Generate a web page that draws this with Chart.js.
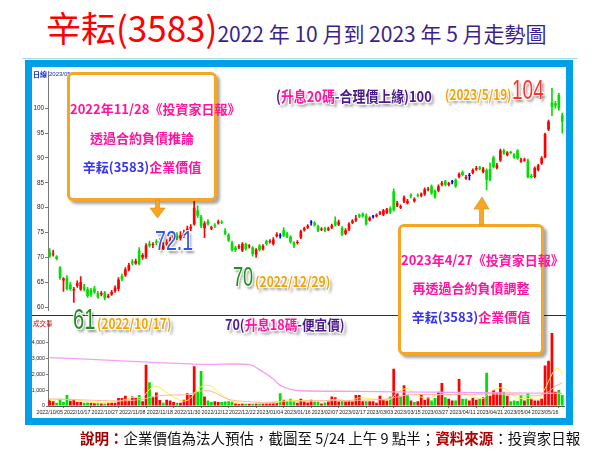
<!DOCTYPE html>
<html lang="zh-Hant">
<head>
<meta charset="utf-8">
<title>辛耘(3583) 走勢圖</title>
<script src="https://cdn.jsdelivr.net/npm/chart.js@4.4.1/dist/chart.umd.min.js"></script>
<style>
  html, body { margin:0; padding:0; }
  body { width:600px; height:454px; position:relative; overflow:hidden; background:#fff;
         font-family:"Noto Sans CJK TC","Noto Sans",sans-serif; }
  .t { position:absolute; white-space:nowrap; line-height:1; transform-origin:0 50%; }
  .box { position:absolute; border:3px solid #f6a623; border-radius:6px; background:#fff;
         box-shadow:3px 3px 3px rgba(0,0,0,0.35); box-sizing:border-box; }
  .box div { position:absolute; left:0; width:100%; text-align:center; font-weight:bold;
             font-size:13px; line-height:1; white-space:nowrap; }
  .mg { color:#ff14a0; }
  .bl { color:#3434f0; }
  .pu { color:#4a1a8c; }
  .or { color:#f5a300; }
  .sh { text-shadow:1px 1px 0 #fff,-1px -1px 0 #fff,1px -1px 0 #fff,-1px 1px 0 #fff,3px 3px 3px rgba(0,0,0,0.45); }
  .big { font-family:"Liberation Sans",sans-serif; }
</style>
</head>
<body>

<div class="t" style="left:46px;top:9px"><span style="font-size:35px;color:#ff0000">辛耘(3583)</span><span style="font-size:21px;color:#3b1f8c">2022 年 10 月到 2023 年 5 月走勢圖</span></div>
<div style="position:absolute;left:22px;top:58px;width:556px;height:1px;background:#a6dbe9"></div>

<div style="position:absolute;left:25px;top:60px;width:548px;height:365px;border:7px solid #00a0e9;box-sizing:border-box;background:#fff"></div>
<canvas id="priceChart" width="533" height="248" style="position:absolute;left:32px;top:67px"></canvas>
<div style="position:absolute;left:32px;top:315px;width:534px;height:1px;background:#5a1e1e"></div>
<canvas id="volChart" width="533" height="102" style="position:absolute;left:32px;top:316px"></canvas>

<div class="t" style="left:33px;top:71px;font-size:7px;color:#1030d0;font-weight:bold">日線</div>
<div class="t" style="left:49px;top:71px;font-size:6px;color:#1030d0;font-family:'Liberation Sans',sans-serif">2023/05/23</div>
<div class="t" style="left:33px;top:320px;font-size:6.5px;color:#e00000">成交量</div>

<div class="box" style="left:67px;top:72px;width:150px;height:129px">
  <div class="mg" style="top:27px">2022年11/28《投資家日報》</div>
  <div class="mg" style="top:56px">透過合約負債推論</div>
  <div style="top:85px"><span class="bl">辛耘(3583)</span><span class="mg">企業價值</span></div>
</div>

<div class="box" style="left:398px;top:224px;width:146px;height:131px">
  <div class="mg" style="top:26px">2023年4/27《投資家日報》</div>
  <div class="mg" style="top:54px">再透過合約負債調整</div>
  <div style="top:83px"><span class="bl">辛耘(3583)</span><span class="mg">企業價值</span></div>
</div>

<svg width="600" height="454" style="position:absolute;left:0;top:0;pointer-events:none">
  <polygon points="155.5,200 159.5,200 159.5,208 165,208 157.5,218 150,208 155.5,208" fill="#f6a623" stroke="#d88a10" stroke-width="0.6"/>
  <polygon points="479.5,225 483.5,225 483.5,209 489,209 482,197 474,209 479.5,209" fill="#f6a623" stroke="#d88a10" stroke-width="0.6"/>
</svg>

<div class="t sh" style="left:276px;top:88px;font-size:15px;font-weight:bold;transform:scaleX(0.86)"><span class="pu">(</span><span class="mg">升息20碼</span><span class="pu">-合理價上緣)100</span></div>
<div class="t sh or" style="left:445px;top:87px;font-size:14px;font-weight:bold;transform:scaleX(0.84)">(2023/5/19)</div>
<div class="t sh big" style="left:512px;top:76px;font-size:28px;color:#ff3030;transform:scaleX(0.68)">104</div>
<div class="t sh big" style="left:155px;top:227px;font-size:28px;color:#2f55e6;transform:scaleX(0.7)">72.1</div>
<div class="t sh big" style="left:233px;top:263px;font-size:28px;color:#1f8f1f;transform:scaleX(0.65)">70</div>
<div class="t sh or" style="left:255px;top:274px;font-size:14px;font-weight:bold;transform:scaleX(0.86)">(2022/12/29)</div>
<div class="t sh" style="left:225px;top:317px;font-size:14px;font-weight:bold;transform:scaleX(0.9)"><span class="pu">70(</span><span class="mg">升息18碼</span><span class="pu">-便宜價)</span></div>
<div class="t sh big" style="left:73px;top:304px;font-size:30px;color:#1f8f1f;transform:scaleX(0.67)">61</div>
<div class="t sh or" style="left:97px;top:316px;font-size:14px;font-weight:bold;transform:scaleX(0.85)">(2022/10/17)</div>

<div class="t" style="left:80px;top:431px;font-size:14.5px;color:#111"><b style="color:#a00000">說明：</b>企業價值為法人預估，截圖至 5/24 上午 9 點半；<b style="color:#b00000">資料來源</b>：投資家日報</div>

<script>
// 日K 開高低收（2022/10 ~ 2023/05）
var openP = [
  71.0,70.6,70.2,68.0,65.4,65.9,64.6,63.4,64.3,63.6,
  64.2,63.7,63.5,63.8,62.9,62.6,63.0,62.0,62.6,63.3,
  63.7,66.3,66.4,67.5,69.2,68.8,71.4,70.0,70.1,72.8,
  72.5,73.2,73.0,71.7,72.6,73.0,73.6,74.4,73.8,74.3,
  75.2,75.8,76.7,79.5,78.2,75.9,77.3,75.8,76.5,76.9,
  77.2,75.4,74.6,73.0,72.0,72.0,71.4,72.7,72.2,72.0,
  70.6,72.4,71.7,73.3,73.1,72.7,74.3,74.3,75.5,74.8,
  74.2,73.0,72.9,74.0,75.5,76.0,77.0,77.0,76.3,75.6,
  75.9,75.6,76.0,77.3,76.6,76.0,74.8,75.6,77.0,77.5,
  78.6,78.8,78.4,77.5,78.2,78.3,78.8,78.6,79.0,79.9,
  83.3,80.4,80.0,81.2,80.9,82.6,81.3,82.6,82.4,82.7,
  83.6,84.3,83.4,83.4,84.6,85.3,84.6,85.1,85.6,86.2,
  87.2,85.9,86.4,87.0,87.7,88.1,87.2,87.6,87.8,90.1,
  88.0,89.5,91.5,90.6,91.2,90.7,91.5,89.3,89.5,89.5,
  86.4,86.2,87.6,88.9,90.1,95.7,101.2,101.0,102.7,98.6
];
var closeP = [
  70.2,70.8,69.7,65.9,65.8,63.7,63.7,63.7,64.9,65.1,
  63.6,62.3,62.6,63.0,62.0,62.9,61.8,62.3,63.1,64.0,
  65.6,65.6,67.6,68.5,68.8,69.3,68.7,70.5,72.4,72.3,
  72.7,72.9,73.3,72.4,73.0,73.6,74.4,74.0,74.5,75.0,
  75.8,76.2,80.0,78.4,76.3,76.9,76.7,76.1,76.3,77.2,
  77.0,74.8,73.4,71.5,71.5,72.3,72.7,71.7,72.4,70.7,
  71.6,71.5,72.3,72.7,73.3,73.6,74.7,74.3,74.4,74.2,
  73.1,72.4,73.1,75.3,75.9,76.4,77.0,76.5,75.4,75.8,
  75.4,75.9,76.5,76.5,77.2,74.6,75.5,76.8,77.4,77.9,
  78.2,78.3,76.7,78.0,78.2,78.6,79.1,79.5,79.7,79.1,
  79.5,81.0,80.3,82.1,81.4,82.3,81.8,82.4,82.8,83.7,
  83.8,82.9,82.1,84.3,85.0,84.6,84.9,85.1,84.3,86.8,
  86.6,86.2,86.4,87.6,88.0,87.8,87.9,85.6,85.6,88.2,
  88.6,91.5,90.9,91.1,91.0,90.1,89.9,89.7,89.7,86.2,
  86.2,88.0,88.5,90.0,94.8,97.3,100.3,100.5,100.0,97.3
];
var highP = [
  71.8,71.5,70.4,68.2,66.0,66.4,65.0,64.0,65.3,66.2,
  64.6,64.0,63.8,64.2,63.2,63.2,63.2,62.6,63.4,64.3,
  66.0,66.7,68.0,68.9,69.6,69.7,72.0,70.8,72.8,73.3,
  73.0,73.6,73.8,73.0,73.6,74.0,74.8,75.0,75.2,75.5,
  76.3,76.6,81.5,80.4,78.5,77.2,77.6,76.3,76.8,77.5,
  77.4,75.8,74.8,73.3,72.3,72.6,73.0,72.9,72.6,72.2,
  71.8,72.6,72.6,73.5,73.6,74.0,75.0,74.8,76.0,75.1,
  74.4,73.2,73.4,75.5,76.1,76.6,77.4,77.2,76.5,76.0,
  76.1,76.1,76.7,78.2,77.5,76.2,75.8,77.0,77.6,78.5,
  78.8,79.0,78.8,78.2,78.5,78.8,79.3,79.7,79.9,80.2,
  83.8,81.3,80.6,82.4,81.7,82.8,82.0,82.8,83.0,84.0,
  84.1,84.6,83.6,84.6,85.3,85.5,85.1,85.5,85.8,87.0,
  87.4,86.5,86.9,87.8,88.3,88.3,88.1,87.8,89.0,90.4,
  88.9,91.8,91.8,91.3,91.4,90.9,91.7,90.0,90.0,89.8,
  86.7,88.2,88.7,90.3,95.0,97.6,104.0,101.4,103.0,99.0
];
var lowP = [
  70.0,70.3,69.5,65.6,63.2,63.5,63.4,61.0,64.0,63.4,
  63.3,62.0,62.2,62.8,61.8,62.3,61.5,61.9,62.4,63.0,
  63.3,65.3,66.2,67.3,68.5,68.6,68.5,69.6,69.8,72.1,
  72.0,72.6,72.6,71.6,72.4,72.8,73.4,73.6,73.5,74.0,
  74.8,75.4,76.5,78.0,76.0,74.0,76.5,75.6,76.0,76.7,
  76.8,74.6,73.2,71.3,71.2,71.8,71.2,71.5,71.9,70.3,
  70.0,71.3,71.5,72.5,72.9,72.5,74.1,73.9,74.2,74.0,
  72.9,72.0,72.7,73.8,75.3,75.8,76.5,76.3,75.2,75.4,
  75.2,75.4,75.8,76.3,76.4,74.4,74.6,75.4,76.8,77.2,
  78.0,78.1,76.5,77.3,77.9,78.1,78.6,78.4,78.8,78.8,
  79.3,80.2,79.8,81.0,80.7,82.0,81.1,82.2,82.2,82.5,
  83.4,82.7,81.9,83.2,84.4,84.4,84.4,84.8,84.1,86.0,
  86.4,85.7,85.6,86.8,87.5,87.6,87.0,83.6,85.4,88.0,
  87.8,89.3,90.7,90.4,90.8,89.9,89.7,89.1,89.3,86.0,
  86.0,86.0,87.4,88.7,90.0,95.5,98.5,100.0,99.6,95.0
];
// 成交量（張）
var volume = [
  400,300,200,450,250,700,330,400,250,250,
  200,220,200,180,200,180,150,200,220,200,
  500,500,650,400,600,550,700,300,2600,1500,
  550,850,380,200,400,350,250,200,200,400,
  800,700,2500,900,2200,600,350,250,300,250,
  250,280,300,280,150,130,150,140,160,180,
  200,170,150,180,200,220,200,800,400,300,
  450,280,200,450,280,220,400,280,300,150,
  220,280,600,550,280,300,280,300,280,700,
  700,300,300,300,300,200,650,400,350,600,
  2350,800,600,1300,700,350,250,300,750,400,
  550,350,500,900,1450,550,450,350,350,1700,
  450,450,350,500,400,450,550,2100,650,1000,
  850,1450,900,650,300,350,320,700,350,800,
  450,350,350,450,2550,2850,4600,900,1000,700
];
// 均量線（讀圖取點：[K棒序號, 張數]）
var volMaShort = [[0,350],[4,420],[8,380],[12,230],[16,190],[20,300],[24,530],[27,560],[29,1050],[31,1250],[33,1000],
  [36,560],[39,300],[41,500],[43,1050],[45,1300],[47,1250],[50,700],[53,300],[57,160],[62,180],[66,200],[68,380],
  [71,350],[75,330],[79,290],[83,420],[87,330],[90,520],[93,460],[96,400],[99,420],[101,850],[104,1100],[107,640],
  [110,500],[114,760],[117,680],[120,800],[123,560],[126,480],[128,880],[131,1150],[133,1000],[136,520],[139,480],
  [142,450],[144,1100],[146,2000],[147,2300],[148,2350],[149,1950]];
var volMaMid = [[0,450],[10,380],[20,320],[27,420],[30,600],[34,680],[40,720],[44,950],[47,920],[52,420],[56,300],
  [62,230],[68,280],[76,330],[86,350],[96,400],[100,520],[104,700],[110,720],[120,720],[128,760],[136,700],[142,650],
  [145,900],[147,1250],[149,1450]];
var volMaLong = [[0,3050],[15,2900],[30,2750],[45,2620],[58,2600],[62,2150],[65,1700],[67,1300],[70,1050],[73,960],
  [90,920],[110,870],[130,830],[149,800]];

var tickLabels = ['2022/10/05','2022/10/17','2022/10/27','2022/11/08','2022/11/18','2022/11/30','2022/12/12',
  '2022/12/22','2023/01/04','2023/01/16','2023/02/07','2023/02/17','2023/03/03','2023/03/15','2023/03/27',
  '2023/04/11','2023/04/21','2023/05/04','2023/05/16'];
var tickEvery = 8;
var priceTicks = [60,65,70,75,80,85,90,95,100];
var volTicks = [0,1000,2000,3000,4000];

var idx = openP.map(function(v, i){ return i; });

var UP = '#ff0000', DOWN = '#00e000', FLAT = '#0000ff';
var candleColor = openP.map(function(o, i){
  if (closeP[i] > o) return UP;
  if (closeP[i] < o) return DOWN;
  return FLAT;
});
var volColor = closeP.map(function(c, i){
  if (i === 0) return UP;
  return c >= closeP[i-1] ? UP : DOWN;
});

function pts(arr){ return arr.map(function(p){ return {x:p[0], y:p[1]}; }); }

var tinyFont = {family:"'Liberation Sans',sans-serif", size:5.3};

new Chart(document.getElementById('priceChart'), {
  type: 'bar',
  data: {
    labels: idx,
    datasets: [
      {
        data: openP.map(function(o, i){ return [o, closeP[i]]; }),
        backgroundColor: candleColor,
        barPercentage: 0.78, categoryPercentage: 1,
        minBarLength: 1, grouped: false, order: 0
      },
      {
        data: lowP.map(function(l, i){ return [l, highP[i]]; }),
        backgroundColor: candleColor,
        barThickness: 1, grouped: false, order: 1
      }
    ]
  },
  options: {
    responsive: false, animation: false,
    layout: {padding: {top:1, right:1, left:0, bottom:0}},
    plugins: {legend:{display:false}, tooltip:{enabled:false}},
    scales: {
      x: {display:false, offset:true, grid:{display:false}},
      y: {
        min: 59.42, max: 107.31,
        afterFit: function(s){ s.width = 16; },
        afterBuildTicks: function(s){ s.ticks = priceTicks.map(function(v){ return {value:v}; }); },
        ticks: {font:{family:"'Liberation Sans',sans-serif", size:6.3}, color:'#222', padding:1},
        grid: {drawOnChartArea:false, tickLength:3, color:'#777'},
        border: {color:'#777'}
      }
    }
  }
});

new Chart(document.getElementById('volChart'), {
  type: 'bar',
  data: {
    labels: idx,
    datasets: [
      {type:'line', data: pts(volMaLong), borderColor:'#f4a0f2', borderWidth:1.3, pointRadius:0, tension:0.3, order:0},
      {type:'line', data: pts(volMaMid), borderColor:'#ffb49a', borderWidth:1, pointRadius:0, tension:0.3, order:0},
      {type:'line', data: pts(volMaShort), borderColor:'#ffec4a', borderWidth:1, pointRadius:0, tension:0.3, order:0},
      {data: volume, backgroundColor: volColor, barPercentage:0.8, categoryPercentage:1, order:1}
    ]
  },
  options: {
    responsive: false, animation: false,
    layout: {padding: {top:0, right:1, left:0, bottom:0}},
    plugins: {legend:{display:false}, tooltip:{enabled:false}},
    scales: {
      x: {
        offset: true,
        afterFit: function(s){ s.height = 12; },
        afterBuildTicks: function(s){ s.ticks = s.ticks.filter(function(t){ return t.value % tickEvery === 0; }); },
        ticks: {
          autoSkip:false, maxRotation:0, minRotation:0, padding:1,
          font: tinyFont, color:'#222',
          callback: function(v){ return tickLabels[v / tickEvery] || ''; }
        },
        grid: {drawOnChartArea:false, tickLength:2, color:'#777'},
        border: {color:'#555'}
      },
      y: {
        min: 0, max: 5400,
        afterFit: function(s){ s.width = 16; },
        afterBuildTicks: function(s){ s.ticks = volTicks.map(function(v){ return {value:v}; }); },
        ticks: {font: {family:"'Liberation Sans',sans-serif", size:5.3}, color:'#222', padding:1,
                callback: function(v){ return v.toLocaleString('en-US'); }},
        grid: {drawOnChartArea:false, tickLength:2, color:'#777'},
        border: {color:'#777'}
      }
    }
  }
});
</script>
</body>
</html>
